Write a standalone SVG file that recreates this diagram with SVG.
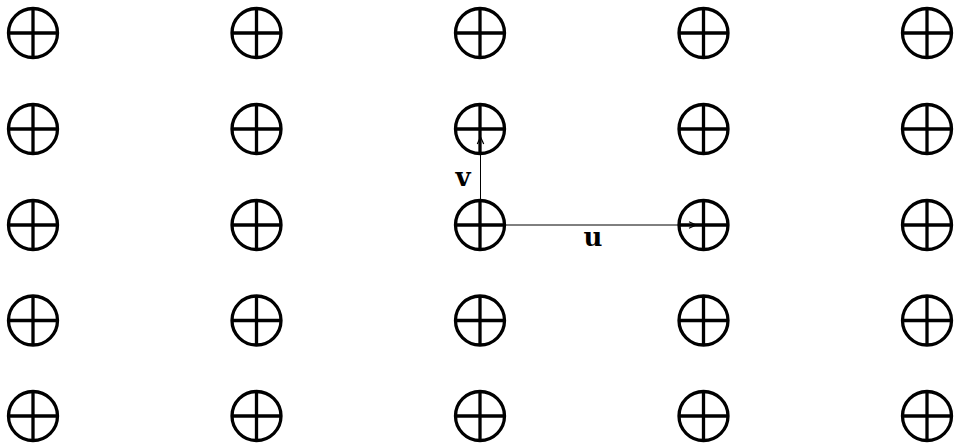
<svg xmlns="http://www.w3.org/2000/svg" xmlns:xlink="http://www.w3.org/1999/xlink" width="954" height="446" viewBox="0 0 954 446">
  <style>
    .node circle, .node line { fill: none; stroke: #000; stroke-width: 3.3; }
    .edge { stroke: #000; stroke-width: 1; fill: none; }
    .lbl { font-family: "DejaVu Serif", "Liberation Serif", serif; font-weight: bold; font-size: 26px; fill: #000; text-anchor: middle; }
  </style>
  <defs>
    <g id="cross" class="node">
      <circle cx="0" cy="0" r="24.5"/>
      <line x1="-24.5" y1="0" x2="24.5" y2="0"/>
      <line x1="0" y1="-24.5" x2="0" y2="24.5"/>
    </g>
    <marker id="arr" markerUnits="userSpaceOnUse" markerWidth="12" markerHeight="12" refX="0" refY="0" viewBox="-10 -6 12 12" orient="auto">
      <path d="M-7,-3.2 L0,0 L-7,3.2" fill="none" stroke="#000" stroke-width="1.2"/>
    </marker>
  </defs>
  <rect width="954" height="446" fill="#fff"/>
  <g id="nodes">
    <g id="n00"><use xlink:href="#cross" x="33" y="33"/></g>
    <g id="n01"><use xlink:href="#cross" x="256.5" y="33"/></g>
    <g id="n02"><use xlink:href="#cross" x="480" y="33"/></g>
    <g id="n03"><use xlink:href="#cross" x="703.5" y="33"/></g>
    <g id="n04"><use xlink:href="#cross" x="927" y="33"/></g>
    <g id="n10"><use xlink:href="#cross" x="33" y="129"/></g>
    <g id="n11"><use xlink:href="#cross" x="256.5" y="129"/></g>
    <g id="n12"><use xlink:href="#cross" x="480" y="129"/></g>
    <g id="n13"><use xlink:href="#cross" x="703.5" y="129"/></g>
    <g id="n14"><use xlink:href="#cross" x="927" y="129"/></g>
    <g id="n20"><use xlink:href="#cross" x="33" y="225"/></g>
    <g id="n21"><use xlink:href="#cross" x="256.5" y="225"/></g>
    <g id="n22"><use xlink:href="#cross" x="480" y="225"/></g>
    <g id="n23"><use xlink:href="#cross" x="703.5" y="225"/></g>
    <g id="n24"><use xlink:href="#cross" x="927" y="225"/></g>
    <g id="n30"><use xlink:href="#cross" x="33" y="320.5"/></g>
    <g id="n31"><use xlink:href="#cross" x="256.5" y="320.5"/></g>
    <g id="n32"><use xlink:href="#cross" x="480" y="320.5"/></g>
    <g id="n33"><use xlink:href="#cross" x="703.5" y="320.5"/></g>
    <g id="n34"><use xlink:href="#cross" x="927" y="320.5"/></g>
    <g id="n40"><use xlink:href="#cross" x="33" y="416"/></g>
    <g id="n41"><use xlink:href="#cross" x="256.5" y="416"/></g>
    <g id="n42"><use xlink:href="#cross" x="480" y="416"/></g>
    <g id="n43"><use xlink:href="#cross" x="703.5" y="416"/></g>
    <g id="n44"><use xlink:href="#cross" x="927" y="416"/></g>
  </g>
  <g id="connectors">
    <line class="edge" x1="480.5" y1="225" x2="480.5" y2="137" marker-end="url(#arr)"/>
    <line class="edge" x1="480" y1="225" x2="696" y2="225" stroke="#444" marker-end="url(#arr)"/>
    <text class="lbl" x="463" y="186">v</text>
    <text class="lbl" x="593" y="246">u</text>
  </g>
</svg>
